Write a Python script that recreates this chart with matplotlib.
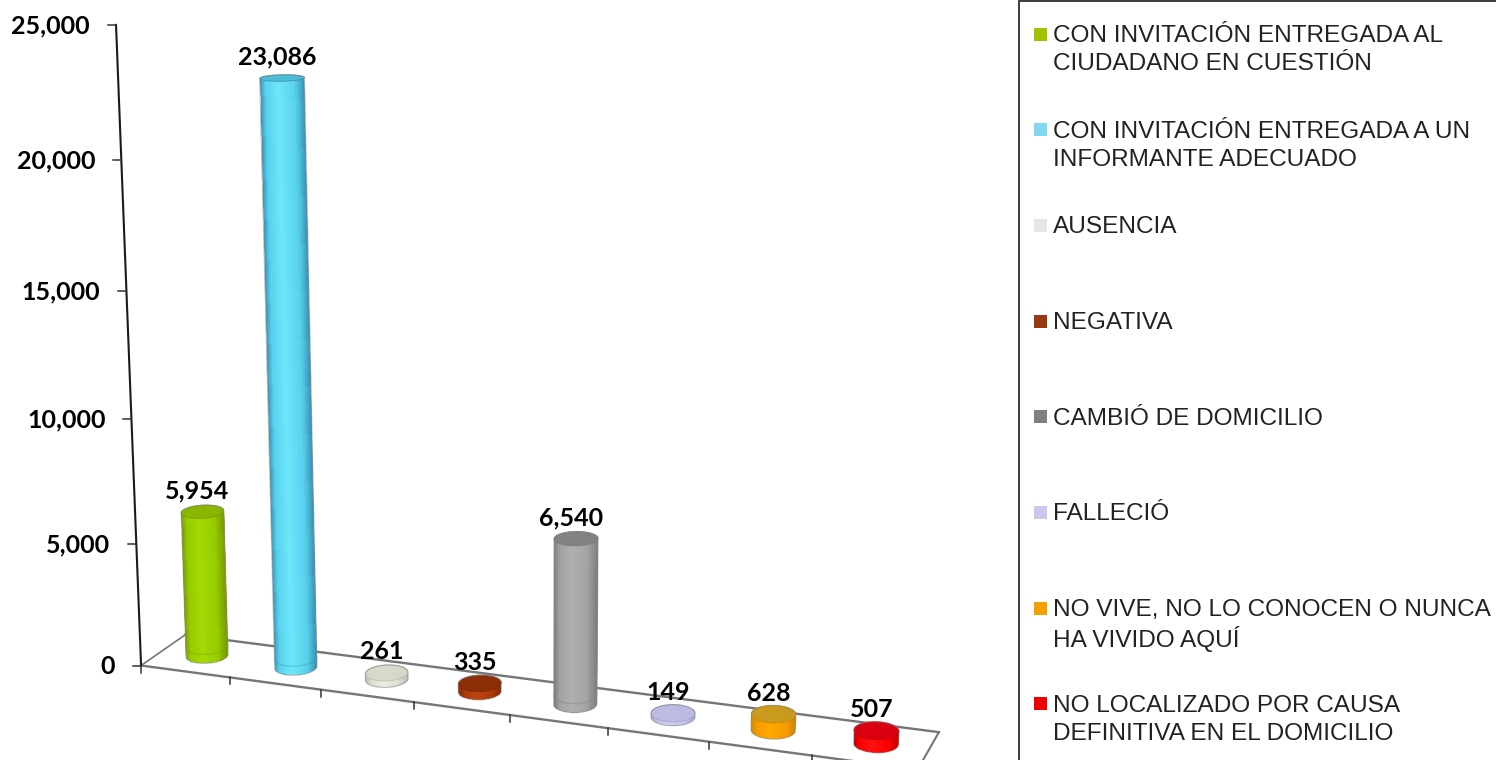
import numpy as np
import matplotlib
matplotlib.use("Agg")
import matplotlib.pyplot as plt
from matplotlib.colors import LinearSegmentedColormap
from matplotlib.patches import Polygon, Rectangle

# Data
values = [5954, 23086, 261, 335, 6540, 149, 628, 507]
value_labels = ["5,954", "23,086", "261", "335", "6,540", "149", "628", "507"]
y_ticks = [0, 5000, 10000, 15000, 20000, 25000]
y_tick_labels = ["0", "5,000", "10,000", "15,000", "20,000", "25,000"]
legend_labels = [
    ["CON INVITACIÓN ENTREGADA AL", "CIUDADANO EN CUESTIÓN"],
    ["CON INVITACIÓN ENTREGADA A UN", "INFORMANTE ADECUADO"],
    ["AUSENCIA"],
    ["NEGATIVA"],
    ["CAMBIÓ DE DOMICILIO"],
    ["FALLECIÓ"],
    ["NO VIVE, NO LO CONOCEN O NUNCA", "HA VIVIDO AQUÍ"],
    ["NO LOCALIZADO POR CAUSA", "DEFINITIVA EN EL DOMICILIO"],
]

# Colours: side edge, side middle, highlight, top cap
edge_colors = ["#779a00", "#3a94b4", "#b9bcae", "#842804", "#7c7c7c", "#a3a3cf", "#cc8800", "#c40000"]
mid_colors = ["#97cb00", "#58d2ee", "#dcdfd2", "#ab380b", "#a2a2a2", "#c3c3e8", "#f79b00", "#fa0000"]
high_colors = ["#a4da04", "#6ee6fa", "#eceee4", "#bf4412", "#b0b0b0", "#d2d2f2", "#ffa800", "#ff1010"]
top_colors = ["#8cb400", "#4cbcd4", "#d6d9ca", "#8a2e08", "#808080", "#bcbce2", "#c89a20", "#d80012"]
swatch_colors = ["#a2c200", "#7fd8ef", "#e6e6e6", "#983a10", "#808080", "#c8c8ee", "#f5a000", "#f00000"]

# Camera for the tilted 3D chart: (category, depth, value in thousands) -> pixel
frame_world = np.array([
    [0, 0, 0], [1, 0, 0], [2, 0, 0], [3, 0, 0], [4, 0, 0], [5, 0, 0], [6, 0, 0], [7, 0, 0], [8, 0, 0],
    [0, 1, 0], [8, 1, 0],
    [0, 0, 5], [0, 0, 20], [0, 0, 25],
    [1.5, 0.5, 0], [1.5, 0.5, 25], [4.5, 0.5, 0], [4.5, 0.5, 10],
], dtype=float)
frame_pixel = np.array([
    [141, 666], [230, 678], [322, 690], [415, 702], [510, 715], [607, 728], [707, 741], [810, 755], [920, 770],
    [185, 634], [939, 732],
    [136, 543], [121.5, 159], [116, 25],
    [296, 668], [281, 26], [576, 704], [576, 450],
], dtype=float)

A = []
b = []
for (c, d, v), (px, py) in zip(frame_world, frame_pixel):
    A.append([c, d, v, 1, 0, 0, 0, 0, -px * c, -px * d, -px * v])
    A.append([0, 0, 0, 0, c, d, v, 1, -py * c, -py * d, -py * v])
    b += [px, py]
cam = np.append(np.linalg.lstsq(np.array(A), np.array(b), rcond=None)[0], 1).reshape(3, 4)


def project(c, d, v):
    c, d, v = np.broadcast_arrays(c, d, v)
    pts = np.stack([c, d, v / 1000.0, np.ones_like(c, dtype=float)], axis=-1)
    out = pts @ cam.T
    return out[..., 0] / out[..., 2], out[..., 1] / out[..., 2]


def ring(i, v):
    t = np.linspace(0, 2 * np.pi, 121)[:-1]
    return project(i + 0.5 + 0.21 * np.cos(t), 0.5 + 0.234 * np.sin(t), float(v))


def half_ring(x, y, lower):
    # part of the ellipse between its left and right extremes
    n = len(x)
    i0, i1 = np.argmin(x), np.argmax(x)
    idx_a = np.arange(i0, i0 + (i1 - i0) % n + 1) % n
    idx_b = np.arange(i1, i1 + (i0 - i1) % n + 1) % n
    a_lower = y[idx_a].mean() > y[idx_b].mean()
    idx = idx_a if a_lower == lower else idx_b
    if x[idx[0]] > x[idx[-1]]:
        idx = idx[::-1]
    return x[idx], y[idx]


W, H = 1496, 760
fig = plt.figure(figsize=(W / 100, H / 100), dpi=100)
ax = fig.add_axes([0, 0, 1, 1])
ax.set_xlim(0, W)
ax.set_ylim(H, 0)
ax.axis("off")

label_font = dict(family="Lato", weight="bold", fontsize=18, color="black")

# Floor
floor_color = "#75757a"
fx, fy = project(np.array([0, 8, 8, 0, 0.0]), np.array([0, 0, 1, 1, 0.0]), 0.0)
ax.plot(fx[:2], fy[:2], color=floor_color, lw=1.7, zorder=1)
ax.plot(fx[1:3], fy[1:3], color=floor_color, lw=1.5, zorder=1)
ax.plot(fx[2:4], fy[2:4], color=floor_color, lw=1.7, zorder=1)
ax.plot(fx[3:], fy[3:], color=floor_color, lw=1.2, zorder=1)
for i in range(len(values) + 1):
    tx, ty = project(float(i), 0.0, 0.0)
    ax.plot([tx, tx], [ty, ty + 7], color="#333333", lw=1.1, zorder=1)

# Value axis
ax_x, ax_y = project(0.0, 0.0, np.array(y_ticks, dtype=float))
ax.plot(ax_x, ax_y, color="#1a1a1a", lw=1.5, zorder=2)
for x, y, lab in zip(ax_x, ax_y, y_tick_labels):
    ax.plot([x - 8, x], [y, y], color="#333333", lw=1.1, zorder=2)
    ax.text(x - 26, y + 1, lab, ha="right", va="center", **label_font)

# Cylinders
profile = np.linspace(0, 1, 41)
for i, v in enumerate(values):
    bx, by = ring(i, 0)
    tx, ty = ring(i, v)
    bot_x, bot_y = half_ring(bx, by, True)
    up_x, up_y = half_ring(tx, ty, False)
    outline = np.column_stack([np.r_[bot_x, up_x[::-1]], np.r_[bot_y, up_y[::-1]]])
    body = Polygon(outline, closed=True, fc="none", ec="none", zorder=3)
    ax.add_patch(body)

    cmap = LinearSegmentedColormap.from_list(
        "side%d" % i,
        [(0, edge_colors[i]), (0.14, mid_colors[i]), (0.42, high_colors[i]),
         (0.78, mid_colors[i]), (1, edge_colors[i])])
    x0, x1 = tx[np.argmin(tx)], tx[np.argmax(tx)]
    y0, y1 = ty[np.argmin(tx)], ty[np.argmax(tx)]
    x2, x3 = bx[np.argmin(bx)], bx[np.argmax(bx)]
    y2, y3 = by[np.argmin(bx)], by[np.argmax(bx)]
    X = np.array([x0 + (x1 - x0) * profile, x2 + (x3 - x2) * profile])
    Y = np.array([y0 + (y1 - y0) * profile - 15, y2 + (y3 - y2) * profile + 15])
    C = profile[:-1][None, :] + 0.5 * (profile[1] - profile[0])
    mesh = ax.pcolormesh(X, Y, C, cmap=cmap, vmin=0, vmax=1, zorder=3, edgecolors="face", linewidth=0.4)
    mesh.set_clip_path(body)

    # faint rim where the far side of the base shows through the glass
    if v > 2000:
        rim_x, rim_y = half_ring(bx, by, True)
        ax.plot(rim_x, rim_y - 9, color=edge_colors[i], lw=1.0, alpha=0.35, zorder=4)

    # top cap and soft outline
    ax.fill(tx, ty, fc=top_colors[i], ec=edge_colors[i], lw=0.6, alpha=0.95, zorder=4)
    ax.add_patch(Polygon(outline, closed=True, fc="none", ec="#8a8a8a", lw=0.8, alpha=0.6, zorder=4))

    # value label
    lx, ly = project(i + 0.5, 0.5, float(v))
    ax.text(lx - 5, ly - 21, value_labels[i], ha="center", va="center", zorder=6, **label_font)

# Legend box runs off the picture on the right and bottom
ax.add_patch(Rectangle((1019, 1), 600, 900, fc="white", ec="#1a1a1a", lw=1.2, zorder=5))
row0, row_step, line_step = 36, 95.7, 28.5
for i, lines in enumerate(legend_labels):
    y = row0 + i * row_step
    ax.add_patch(Rectangle((1034.5, y - 8.5), 13, 13, fc=swatch_colors[i], ec="none", zorder=6))
    for k, line in enumerate(lines):
        ax.text(1053, y + k * line_step, line, ha="left", va="center", family="Liberation Sans",
                fontsize=17.6, color="#222222", zorder=6)

ax.set_xlim(0, W)
ax.set_ylim(H, 0)
fig.savefig("out.png", dpi=100, facecolor="white")
